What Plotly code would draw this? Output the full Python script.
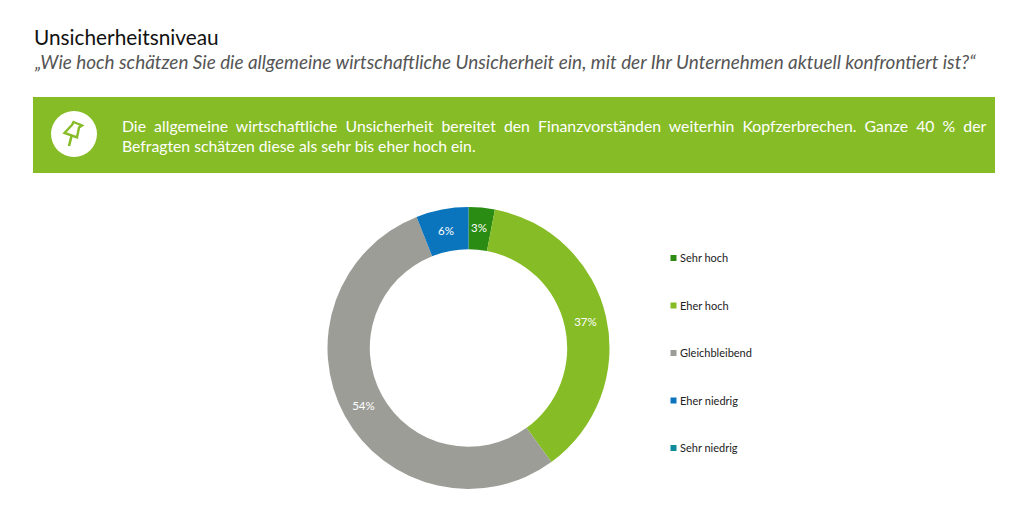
import plotly.graph_objects as go

W, H = 1024, 510
categories = ["Sehr hoch", "Eher hoch", "Gleichbleibend", "Eher niedrig", "Sehr niedrig"]
values = [3, 37, 54, 6, 0]
value_labels = ["", "37%", "54%", "6%", ""]
narrow_label = "3%"
colors = ["#2a8c12", "#86bc25", "#9d9d97", "#0a75bd", "#0f8a9c"]
title = "Unsicherheitsniveau"
subtitle = "„Wie hoch schätzen Sie die allgemeine wirtschaftliche Unsicherheit ein, mit der Ihr Unternehmen aktuell konfrontiert ist?“"
banner_line1 = "Die allgemeine wirtschaftliche Unsicherheit bereitet den Finanzvorständen weiterhin Kopfzerbrechen. Ganze 40 % der"
banner_line2 = "Befragten schätzen diese als sehr bis eher hoch ein."
FONT = "Lato, Carlito, sans-serif"


def px(x):
    return x / W


def py(y):
    return 1 - y / H


def txt(x, y, s, size, color="#111111", italic=False, anchor="left"):
    if italic:
        s = "<i>" + s + "</i>"
    return dict(x=px(x), y=py(y), xref="paper", yref="paper", text=s, showarrow=False,
                xanchor=anchor, yanchor="middle", align="left",
                font=dict(family=FONT, size=size, color=color))


def path(points):
    return "M" + " L".join(f"{px(x):.5f},{py(y):.5f}" for x, y in points) + " Z"


fig = go.Figure(go.Pie(
    values=values, labels=categories, text=value_labels, textinfo="text",
    textposition="inside", insidetextorientation="horizontal",
    textfont=dict(family=FONT, size=11.5, color="white"),
    hole=0.7, sort=False, direction="clockwise", rotation=0,
    marker=dict(colors=colors, line=dict(width=0)),
    domain=dict(x=[px(327), px(610)], y=[py(489), py(207)]),
    showlegend=False,
))

shapes = [
    dict(type="rect", xref="paper", yref="paper", x0=px(33), x1=px(995), y0=py(173), y1=py(97),
         fillcolor="#86bc25", line=dict(width=0)),
    dict(type="circle", xref="paper", yref="paper", x0=px(51), x1=px(97), y0=py(157), y1=py(111),
         fillcolor="white", line=dict(width=0)),
    dict(type="path", xref="paper", yref="paper",
         path=path([(73.5, 122), (82, 125.5), (79, 127.5), (77, 137.5), (64.5, 133), (70.5, 126.5), (72, 125)]),
         fillcolor="white", line=dict(color="#86bc25", width=2.4)),
    dict(type="line", xref="paper", yref="paper", x0=px(71.5), y0=py(136), x1=px(69), y1=py(146),
         line=dict(color="#86bc25", width=2.6)),
]

annotations = [
    txt(32, 37, title, 20.8, "#111111"),
    txt(32, 61.5, subtitle, 18.9, "#555555", italic=True),
    txt(120, 125.5, banner_line1.replace(" ", "\u00a0\u00a0"), 15.8, "white"),
    txt(120, 145.5, banner_line2, 15.75, "white"),
    txt(479, 227.5, narrow_label, 11.5, "white", anchor="center"),
]

legend_y = [258, 305.5, 353, 400.5, 448]
for name, color, y in zip(categories, colors, legend_y):
    shapes.append(dict(type="rect", xref="paper", yref="paper", x0=px(670.5), x1=px(676.5),
                       y0=py(y + 3), y1=py(y - 3), fillcolor=color, line=dict(width=0)))
    annotations.append(txt(678, y - 0.5, name, 11, "#222222"))

fig.update_layout(width=W, height=H, margin=dict(l=0, r=0, t=0, b=0), autosize=False,
                  paper_bgcolor="white", plot_bgcolor="white", shapes=shapes, annotations=annotations)
fig.write_html("out.html", config=dict(displayModeBar=False),
               post_script="document.body.style.margin='0';document.documentElement.style.overflow='hidden';")
